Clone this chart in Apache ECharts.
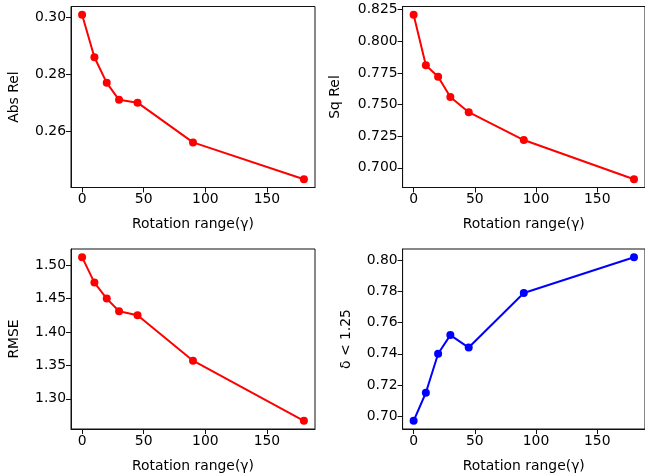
<!DOCTYPE html>
<html>
<head>
<meta charset="utf-8">
<script src="https://cdn.jsdelivr.net/npm/echarts@6/dist/echarts.min.js"></script>
<style>
html,body{margin:0;padding:0;background:#fff;}
#c{width:645px;height:474px;}
</style>
</head>
<body>
<div id="c"></div>
<script>
const rotation = [0, 10, 20, 30, 45, 90, 180];
const absRel = [0.301, 0.286, 0.277, 0.271, 0.270, 0.256, 0.243];
const sqRel = [0.821, 0.781, 0.772, 0.756, 0.744, 0.722, 0.691];
const rmse = [1.512, 1.474, 1.450, 1.431, 1.425, 1.357, 1.267];
const delta = [0.697, 0.715, 0.740, 0.752, 0.744, 0.779, 0.802];

const xTicks = [0, 50, 100, 150];
const absRelTicks = [0.26, 0.28, 0.30];
const sqRelTicks = [0.700, 0.725, 0.750, 0.775, 0.800, 0.825];
const rmseTicks = [1.30, 1.35, 1.40, 1.45, 1.50];
const deltaTicks = [0.70, 0.72, 0.74, 0.76, 0.78, 0.80];

const panels = [
  {name: 'Abs Rel', data: absRel, ticks: absRelTicks, dec: 2, color: '#ff0000', gap: 50},
  {name: 'Sq Rel', data: sqRel, ticks: sqRelTicks, dec: 3, color: '#ff0000', gap: 60},
  {name: 'RMSE', data: rmse, ticks: rmseTicks, dec: 2, color: '#ff0000', gap: 50},
  {name: 'δ < 1.25', data: delta, ticks: deltaTicks, dec: 2, color: '#0000ff', gap: 49}
];

const gridPos = [
  {left: 71, top: 6.5, width: 244, height: 181},
  {left: 402.6, top: 6.5, width: 244, height: 181},
  {left: 71, top: 249, width: 244, height: 181},
  {left: 402.6, top: 249, width: 244, height: 181}
];

function range(arr) {
  const mn = Math.min(...arr), mx = Math.max(...arr);
  const m = (mx - mn) * 0.05;
  return [mn - m, mx + m];
}

const FONT = 'DejaVu Sans';
const FS = 13.9;
const xr = range(rotation);

const grid = [], xAxis = [], yAxis = [], series = [];
panels.forEach((p, i) => {
  grid.push(Object.assign({show: true, borderColor: '#111', borderWidth: 1, backgroundColor: 'transparent'}, gridPos[i]));
  xAxis.push({
    type: 'value', gridIndex: i, min: xr[0], max: xr[1],
    name: 'Rotation range(γ)', nameLocation: 'middle', nameGap: 30,
    nameTextStyle: {fontFamily: FONT, fontSize: FS, color: '#000'},
    axisLine: {show: true, onZero: false, lineStyle: {color: '#111', width: 1}},
    axisTick: {show: true, length: 5, customValues: xTicks, lineStyle: {color: '#111', width: 1}},
    axisLabel: {show: true, customValues: xTicks, margin: 5, fontFamily: FONT, fontSize: FS, color: '#000',
      formatter: v => String(Math.round(v))},
    splitLine: {show: false}
  });
  const yr = range(p.data);
  yAxis.push({
    type: 'value', gridIndex: i, min: yr[0], max: yr[1],
    name: p.name, nameLocation: 'middle', nameGap: p.gap,
    nameTextStyle: {fontFamily: FONT, fontSize: FS, color: '#000'},
    axisLine: {show: true, onZero: false, lineStyle: {color: '#111', width: 1}},
    axisTick: {show: true, length: 5, customValues: p.ticks, lineStyle: {color: '#111', width: 1}},
    axisLabel: {show: true, customValues: p.ticks, margin: 5, fontFamily: FONT, fontSize: FS, color: '#000',
      formatter: v => v.toFixed(p.dec)},
    splitLine: {show: false}
  });
  series.push({
    type: 'line', xAxisIndex: i, yAxisIndex: i,
    data: rotation.map((x, k) => [x, p.data[k]]),
    symbol: 'circle', symbolSize: 8, showSymbol: true,
    lineStyle: {color: p.color, width: 2},
    itemStyle: {color: p.color},
    animation: false, silent: true
  });
});

const chart = echarts.init(document.getElementById('c'), null, {renderer: 'canvas'});
chart.setOption({animation: false, grid, xAxis, yAxis, series});
</script>
</body>
</html>
